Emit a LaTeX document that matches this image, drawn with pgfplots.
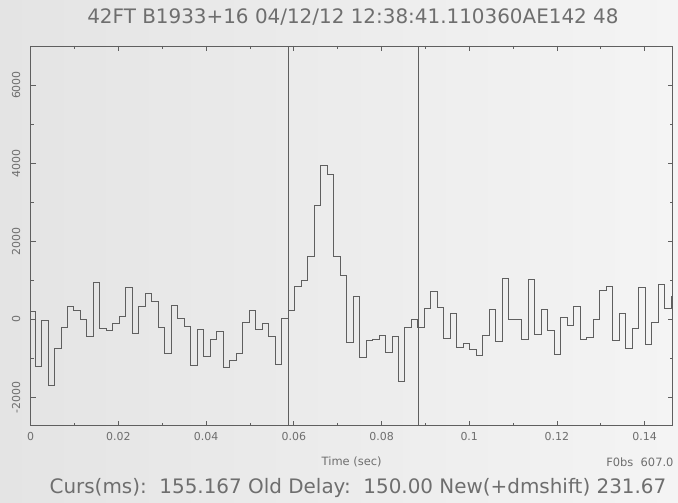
\documentclass[border=0pt]{standalone}
\usepackage{fontspec}
\setmainfont{DejaVu Sans}
\usepackage{pgfplots}
\pgfplotsset{compat=1.18}
\usepackage{pgfplotstable}
\definecolor{ink}{RGB}{95,95,95}
\definecolor{txt}{RGB}{110,110,110}
\definecolor{bgl}{RGB}{228,228,228}
\definecolor{bgr}{RGB}{244,244,244}
\pgfplotstableread{
t v
-0.00050 200
0.00098 -1200
0.00246 -20
0.00394 -1700
0.00542 -730
0.00690 -200
0.00838 320
0.00986 220
0.01134 0
0.01282 -440
0.01430 940
0.01578 -240
0.01726 -290
0.01874 -110
0.02022 70
0.02170 830
0.02318 -370
0.02466 340
0.02614 670
0.02762 470
0.02910 -210
0.03058 -860
0.03206 350
0.03354 30
0.03502 -180
0.03650 -1180
0.03798 -250
0.03946 -950
0.04094 -520
0.04242 -310
0.04390 -1230
0.04538 -1060
0.04686 -880
0.04834 -70
0.04982 240
0.05130 -250
0.05278 -115
0.05426 -440
0.05574 -1160
0.05722 20
0.05870 225
0.06018 835
0.06166 1000
0.06314 1600
0.06462 2910
0.06610 3950
0.06758 3720
0.06906 1615
0.07054 1130
0.07202 -580
0.07350 600
0.07498 -970
0.07646 -550
0.07794 -500
0.07942 -410
0.08090 -840
0.08238 -440
0.08386 -1580
0.08534 -200
0.08682 10
0.08830 -215
0.08978 290
0.09126 710
0.09274 300
0.09422 -480
0.09570 160
0.09718 -710
0.09866 -610
0.10014 -760
0.10162 -930
0.10310 -420
0.10458 260
0.10606 -560
0.10754 1050
0.10902 -10
0.11050 -10
0.11198 -520
0.11346 1020
0.11494 -395
0.11642 260
0.11790 -270
0.11938 -900
0.12086 55
0.12234 -165
0.12382 325
0.12530 -500
0.12678 -455
0.12826 -10
0.12974 750
0.13122 850
0.13270 -550
0.13418 160
0.13566 -735
0.13714 -240
0.13862 820
0.14010 -630
0.14158 -80
0.14306 895
0.14454 285
0.14602 600
0.14750 600
}\datatable

\begin{document}
\begin{tikzpicture}[x=1bp,y=1bp]
\useasboundingbox (0,0) rectangle (678,503);
\shade[left color=bgl,right color=bgr] (0,0) rectangle (678,503);
\begin{axis}[
  at={(30.7bp,77.3bp)}, anchor=south west,
  width=642bp, height=379.7bp, scale only axis,
  xmin=0, xmax=0.1464, ymin=-2720, ymax=7000,
  axis line style={ink, line width=0.8bp},
  tick style={ink, line width=0.7bp},
  major tick length=5bp, minor tick length=3bp,
  tick align=inside,
  xtick={0,0.02,0.04,0.06,0.08,0.1,0.12,0.14},
  xticklabels={0,0.02,0.04,0.06,0.08,0.1,0.12,0.14},
  minor x tick num=1,
  ytick={-2000,0,2000,4000,6000},
  yticklabels={-2000,0,2000,4000,6000},
  minor y tick num=1,
  ticklabel style={font=\fontsize{11}{12}\selectfont, text=txt},
  yticklabel style={rotate=90, anchor=south},
  yticklabel shift=7bp,
  xticklabel shift=3bp,
  scaled ticks=false,
  clip=true,
]
\addplot[const plot mark left, ink, line width=0.9bp, mark=none] table[x=t,y=v] {\datatable};
\addplot[ink, line width=0.8bp, mark=none] coordinates {(0.05875,-2720) (0.05875,7000)};
\addplot[ink, line width=0.8bp, mark=none] coordinates {(0.08839,-2720) (0.08839,7000)};
\end{axis}
\node[text=txt, font=\fontsize{20}{22}\selectfont] at (353,486) {42FT B1933+16 04/12/12 12:38:41.110360AE142 48};
\node[text=txt, font=\fontsize{11.5}{12}\selectfont] at (351.7,41) {Time (sec)};
\node[text=txt, font=\fontsize{11.5}{12}\selectfont, anchor=east] at (677,41) {F0bs\ \ 607.0};
\node[text=txt, font=\fontsize{20}{22}\selectfont] at (358,15) {Curs(ms):\ \ 155.167 Old Delay:\ \ 150.00 New(+dmshift) 231.67};
\end{tikzpicture}
\end{document}
